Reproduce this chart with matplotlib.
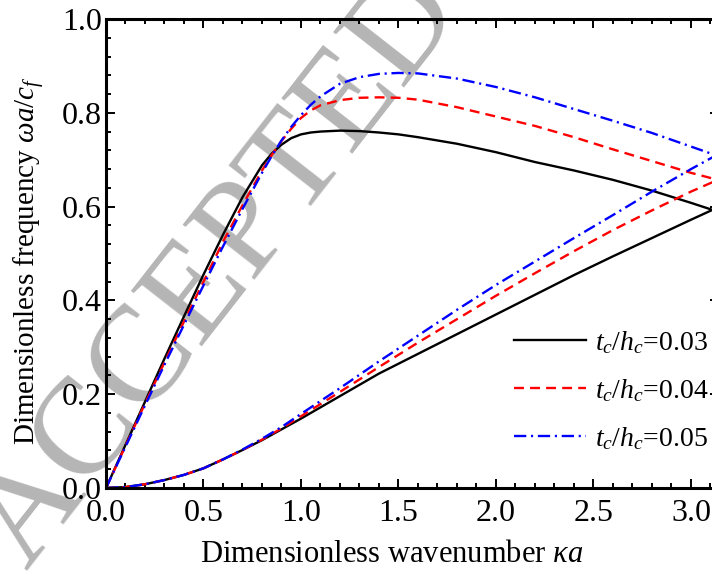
import numpy as np
import matplotlib
matplotlib.use("Agg")
import matplotlib.pyplot as plt
from matplotlib.ticker import MultipleLocator

plt.rcParams['font.family'] = ['Liberation Serif', 'DejaVu Serif']
plt.rcParams['mathtext.fontset'] = 'custom'
plt.rcParams['mathtext.rm'] = 'Liberation Serif'
plt.rcParams['mathtext.it'] = 'Liberation Serif:italic'

# lower branch (shared start), then per-thickness values
ka_low = [0.0, 0.1, 0.2, 0.3, 0.4, 0.5, 0.6, 0.7, 0.8, 0.9, 1.0, 1.2, 1.4, 1.6, 1.8,
          2.0, 2.2, 2.4, 2.6, 2.8, 3.0, 3.11]
low_003 = [0.0, 0.002, 0.008, 0.017, 0.028, 0.042, 0.061, 0.081, 0.102, 0.125, 0.148,
           0.196, 0.244, 0.286, 0.328, 0.370, 0.412, 0.454, 0.494, 0.533, 0.572, 0.593]
low_004 = [0.0, 0.002, 0.008, 0.017, 0.028, 0.042, 0.061, 0.081, 0.103, 0.127, 0.153,
           0.205, 0.258, 0.310, 0.360, 0.410, 0.458, 0.505, 0.550, 0.592, 0.632, 0.652]
low_005 = [0.0, 0.002, 0.008, 0.017, 0.028, 0.042, 0.061, 0.082, 0.105, 0.130, 0.158,
           0.213, 0.270, 0.325, 0.380, 0.433, 0.483, 0.533, 0.582, 0.632, 0.680, 0.705]

# upper branch
ka_up = [0.0, 0.1, 0.2, 0.3, 0.4, 0.5, 0.6, 0.7, 0.8, 0.85, 0.9, 0.95, 1.0, 1.05, 1.1,
         1.2, 1.3, 1.4, 1.5, 1.6, 1.8, 2.0, 2.2, 2.4, 2.6, 2.8, 3.0, 3.11]
up_003 = [0.0, 0.092, 0.184, 0.276, 0.366, 0.455, 0.540, 0.620, 0.688, 0.713, 0.732, 0.746,
          0.754, 0.758, 0.760, 0.762, 0.761, 0.758, 0.754, 0.748, 0.734, 0.716, 0.695,
          0.677, 0.657, 0.634, 0.608, 0.593]
up_004 = [0.0, 0.090, 0.180, 0.268, 0.355, 0.440, 0.525, 0.603, 0.677, 0.710, 0.740, 0.766,
          0.789, 0.805, 0.816, 0.827, 0.832, 0.833, 0.832, 0.828, 0.812, 0.792, 0.772,
          0.748, 0.722, 0.697, 0.672, 0.660]
up_005 = [0.0, 0.088, 0.176, 0.263, 0.348, 0.432, 0.515, 0.595, 0.672, 0.708, 0.741, 0.770,
          0.795, 0.817, 0.835, 0.862, 0.876, 0.883, 0.885, 0.884, 0.873, 0.855, 0.833,
          0.808, 0.783, 0.757, 0.728, 0.712]

labels = [r'$t_c/h_c$=0.03', r'$t_c/h_c$=0.04', r'$t_c/h_c$=0.05']

fig = plt.figure(figsize=(7.12, 5.71), dpi=100)
ax = fig.add_axes([106 / 712, 83 / 571, 612.6 / 712, 469 / 571])
ax.patch.set_visible(False)

# watermark behind the axes
fig.text(218 / 712, 1 - 270 / 571, 'ACCEPTED', fontsize=99, color='#b5b5b5',
         rotation=52, ha='center', va='center', rotation_mode='anchor', zorder=-1)

lw = 1.7
red_dash = (4.2, 2.6)
blue_dash = (5.2, 2.0, 0.9, 2.0)
ax.plot(ka_up, up_003, color='black', lw=lw, label=labels[0])
ax.plot(ka_up, up_004, color='red', lw=lw, dashes=red_dash, label=labels[1])
ax.plot(ka_up, up_005, color='blue', lw=lw, dashes=blue_dash, label=labels[2])
ax.plot(ka_low, low_003, color='black', lw=lw)
ax.plot(ka_low, low_004, color='red', lw=lw, dashes=red_dash)
ax.plot(ka_low, low_005, color='blue', lw=lw, dashes=blue_dash)

ax.set_xlim(0, np.pi)
ax.set_ylim(0, 1.0)
ax.xaxis.set_major_locator(MultipleLocator(0.5))
ax.xaxis.set_minor_locator(MultipleLocator(0.1))
ax.yaxis.set_major_locator(MultipleLocator(0.2))
ax.yaxis.set_minor_locator(MultipleLocator(0.04))
ax.xaxis.set_major_formatter(plt.FormatStrFormatter('%.1f'))
ax.yaxis.set_major_formatter(plt.FormatStrFormatter('%.1f'))

ax.tick_params(which='both', direction='in', top=True, right=True, labelsize=23, width=1.4)
ax.tick_params(which='major', length=6.5)
ax.tick_params(which='minor', length=3.5)
ax.tick_params(axis='x', pad=8)
ax.tick_params(axis='y', pad=3)
for s in ax.spines.values():
    s.set_linewidth(2.2)

ax.set_xlabel(r'Dimensionless wavenumber $\kappa a$', fontsize=22)
ax.set_ylabel(r'Dimensionless frequency $\omega a/c_f$', fontsize=21)
ax.xaxis.set_label_coords(0.466, -0.110)
ax.yaxis.set_label_coords(-0.096, 0.485)

ax.legend(loc='lower left', bbox_to_anchor=(0.666, 0.077), frameon=False, fontsize=20,
          handlelength=2.6, handletextpad=0.3, labelspacing=0.76, borderpad=0,
          borderaxespad=0)

fig.savefig('out.png', dpi=100)
